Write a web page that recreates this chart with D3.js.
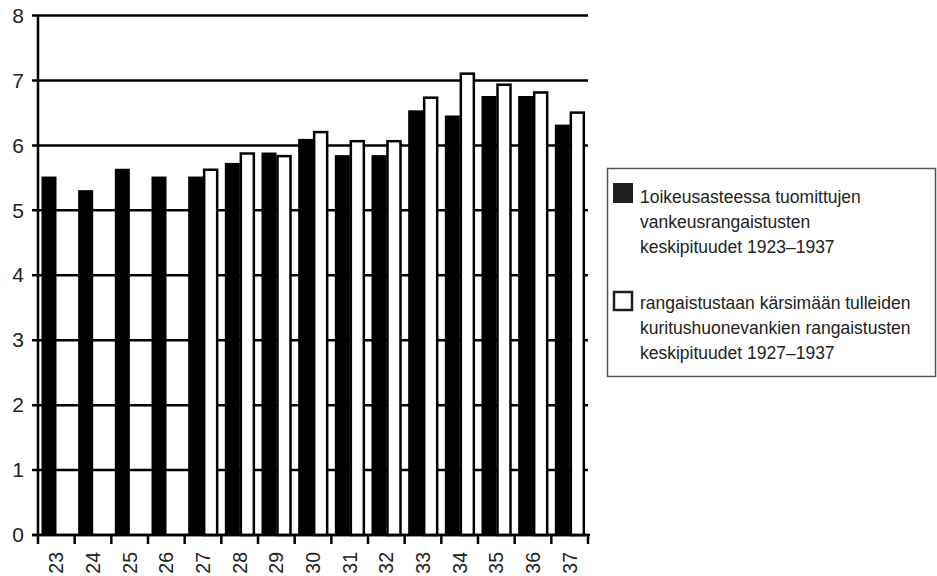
<!DOCTYPE html>
<html>
<head>
<meta charset="utf-8">
<script src="https://cdn.jsdelivr.net/npm/d3@7"></script>
<style>
  body { margin: 0; background: #fff; }
  text { font-family: "Liberation Sans", Arial, sans-serif; fill: #222; }
</style>
</head>
<body>
<div id="chart"></div>
<script>
// years 1923-1937, shown as two digits
var years = ["23","24","25","26","27","28","29","30","31","32","33","34","35","36","37"];

// 1oikeusasteessa tuomittujen vankeusrangaistusten keskipituudet (black)
var tuomitut = [5.52, 5.31, 5.64, 5.52, 5.52, 5.73, 5.89, 6.10, 5.85, 5.85, 6.54, 6.46, 6.76, 6.76, 6.32];

// kuritushuonevankien rangaistusten keskipituudet, from 1927 (white)
var kuritushuone = [null, null, null, null, 5.64, 5.89, 5.85, 6.22, 6.08, 6.08, 6.75, 7.12, 6.95, 6.83, 6.52];

var yTicks = [0, 1, 2, 3, 4, 5, 6, 7, 8];

var legendLabels = [
  ["1oikeusasteessa tuomittujen", "vankeusrangaistusten", "keskipituudet 1923\u20131937"],
  ["rangaistustaan k\u00e4rsim\u00e4\u00e4n tulleiden", "kuritushuonevankien rangaistusten", "keskipituudet 1927\u20131937"]
];

// set the dimensions and margins of the graph
var margin = {top: 15.5, right: 349, bottom: 41, left: 38},
    width = 937 - margin.left - margin.right,
    height = 576 - margin.top - margin.bottom;

var root = d3.select("#chart")
  .append("svg")
    .attr("width", 937)
    .attr("height", 576);

var svg = root.append("g")
    .attr("transform", "translate(" + margin.left + "," + margin.top + ")");

// scales
var x = d3.scaleBand()
    .domain(years)
    .range([0, width])
    .padding(0);

var xSub = d3.scaleBand()
    .domain(["a", "b"])
    .range([3.5, 33.5]);

var y = d3.scaleLinear()
    .domain([0, 8])
    .range([height, 0]);

// horizontal grid lines (with the small tick left of the axis)
svg.append("g")
  .selectAll("line")
  .data(yTicks)
  .enter().append("line")
    .attr("x1", -6)
    .attr("x2", width)
    .attr("y1", function(d) { return y(d); })
    .attr("y2", function(d) { return y(d); })
    .attr("stroke", "#000")
    .attr("stroke-width", 2.5);

// y axis labels
var yAxis = svg.append("g")
    .call(d3.axisLeft(y).tickValues(yTicks).tickSize(0).tickPadding(14).tickFormat(d3.format("d")));
yAxis.select(".domain").remove();
yAxis.selectAll("text")
    .style("font-size", "21px")
    .style("font-family", "'Liberation Sans', Arial, sans-serif")
    .attr("fill", "#222");

// black bars
svg.append("g")
  .selectAll("rect")
  .data(tuomitut)
  .enter().append("rect")
    .attr("x", function(d, i) { return x(years[i]) + xSub("a"); })
    .attr("y", function(d) { return y(d); })
    .attr("width", xSub.bandwidth())
    .attr("height", function(d) { return height - y(d); })
    .attr("fill", "#000");

// white outlined bars
svg.append("g")
  .selectAll("rect")
  .data(kuritushuone.map(function(v, i) { return {year: years[i], value: v}; })
        .filter(function(d) { return d.value != null; }))
  .enter().append("rect")
    .attr("x", function(d) { return x(d.year) + xSub("b") + 1; })
    .attr("y", function(d) { return y(d.value) + 1; })
    .attr("width", xSub.bandwidth() - 2)
    .attr("height", function(d) { return height - y(d.value) - 1; })
    .attr("fill", "#fff")
    .attr("stroke", "#000")
    .attr("stroke-width", 2.5);

// y axis line
svg.append("line")
    .attr("x1", 0).attr("x2", 0)
    .attr("y1", 0).attr("y2", height)
    .attr("stroke", "#000")
    .attr("stroke-width", 2.5);

// x axis: baseline and ticks at category boundaries
svg.append("line")
    .attr("x1", -6).attr("x2", width + 2)
    .attr("y1", height).attr("y2", height)
    .attr("stroke", "#000")
    .attr("stroke-width", 2.5);

svg.append("g")
  .selectAll("line")
  .data(years.concat(["end"]))
  .enter().append("line")
    .attr("x1", function(d) { return d === "end" ? width : x(d); })
    .attr("x2", function(d) { return d === "end" ? width : x(d); })
    .attr("y1", height)
    .attr("y2", height + 9)
    .attr("stroke", "#000")
    .attr("stroke-width", 2.5);

// x labels, rotated
var xAxis = svg.append("g")
    .attr("transform", "translate(0," + height + ")")
    .call(d3.axisBottom(x).tickSize(0));
xAxis.select(".domain").remove();
xAxis.selectAll("text")
    .attr("transform", "rotate(-90)")
    .attr("x", -17)
    .attr("y", 0)
    .attr("dy", "0.36em")
    .attr("text-anchor", "end")
    .attr("fill", "#222")
    .style("font-size", "19.5px")
    .style("font-family", "'Liberation Sans', Arial, sans-serif");

// legend
var legend = root.append("g");
legend.append("rect")
    .attr("x", 607.5)
    .attr("y", 168.5)
    .attr("width", 328)
    .attr("height", 208)
    .attr("fill", "none")
    .attr("stroke", "#555")
    .attr("stroke-width", 1.5);

legend.append("rect")
    .attr("x", 613).attr("y", 183)
    .attr("width", 20).attr("height", 20)
    .attr("fill", "#231f20");

legend.append("rect")
    .attr("x", 614).attr("y", 292)
    .attr("width", 18).attr("height", 18)
    .attr("fill", "#fff")
    .attr("stroke", "#231f20")
    .attr("stroke-width", 2.5);

var legendTop = [197, 303];
legendLabels.forEach(function(lines, k) {
  legend.append("g")
    .selectAll("text")
    .data(lines)
    .enter().append("text")
      .attr("x", 640)
      .attr("y", function(d, i) { return legendTop[k] + i * 24.7; })
      .attr("dy", "0.35em")
      .style("font-size", "17.5px")
      .text(function(d) { return d; });
});
</script>
</body>
</html>
